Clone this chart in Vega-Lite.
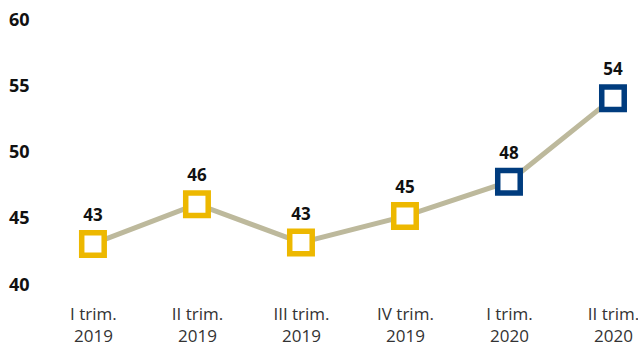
{
  "$schema": "https://vega.github.io/schema/vega-lite/v6.json",
  "width": 597,
  "height": 265,
  "autosize": {"type": "none"},
  "padding": {"left": 41, "top": 20, "right": 0, "bottom": 60},
  "background": "white",
  "config": {
    "view": {"stroke": null},
    "font": "Open Sans"
  },
  "data": {
    "values": [
      {"periodo": "I trim.|2019", "anno": "2019", "valore": 43.1},
      {"periodo": "II trim.|2019", "anno": "2019", "valore": 46.1},
      {"periodo": "III trim.|2019", "anno": "2019", "valore": 43.2},
      {"periodo": "IV trim.|2019", "anno": "2019", "valore": 45.2},
      {"periodo": "I trim.|2020", "anno": "2020", "valore": 47.8},
      {"periodo": "II trim.|2020", "anno": "2020", "valore": 54.1}
    ]
  },
  "encoding": {
    "x": {
      "field": "periodo",
      "type": "ordinal",
      "sort": null,
      "scale": {"type": "point", "padding": 0.37, "align": 0.675},
      "axis": {
        "title": null,
        "domain": false,
        "ticks": false,
        "labelAngle": 0,
        "labelExpr": "split(datum.label, '|')",
        "labelFont": "Open Sans",
        "labelFontSize": 17,
        "labelColor": "#333333",
        "labelLineHeight": 22,
        "labelPadding": 21
      }
    },
    "y": {
      "field": "valore",
      "type": "quantitative",
      "scale": {"domain": [40, 60], "nice": false, "zero": false},
      "axis": {
        "title": null,
        "domain": false,
        "ticks": false,
        "grid": false,
        "values": [40, 45, 50, 55, 60],
        "labelFont": "Open Sans",
        "labelFontSize": 18,
        "labelFontWeight": "bold",
        "labelColor": "#111111",
        "labelPadding": 12
      }
    }
  },
  "layer": [
    {
      "mark": {"type": "line", "color": "#BDB99C", "strokeWidth": 5}
    },
    {
      "mark": {"type": "point", "shape": "square", "filled": true, "fill": "white", "size": 506, "strokeWidth": 5.5, "opacity": 1},
      "encoding": {
        "stroke": {
          "field": "anno",
          "type": "nominal",
          "scale": {"domain": ["2019", "2020"], "range": ["#EDB800", "#003C7E"]},
          "legend": null
        }
      }
    },
    {
      "mark": {"type": "text", "font": "Open Sans", "fontSize": 17, "fontWeight": "bold", "color": "#111111", "baseline": "alphabetic", "dy": -23},
      "encoding": {
        "text": {"field": "valore", "type": "quantitative", "format": ".0f"}
      }
    }
  ]
}
